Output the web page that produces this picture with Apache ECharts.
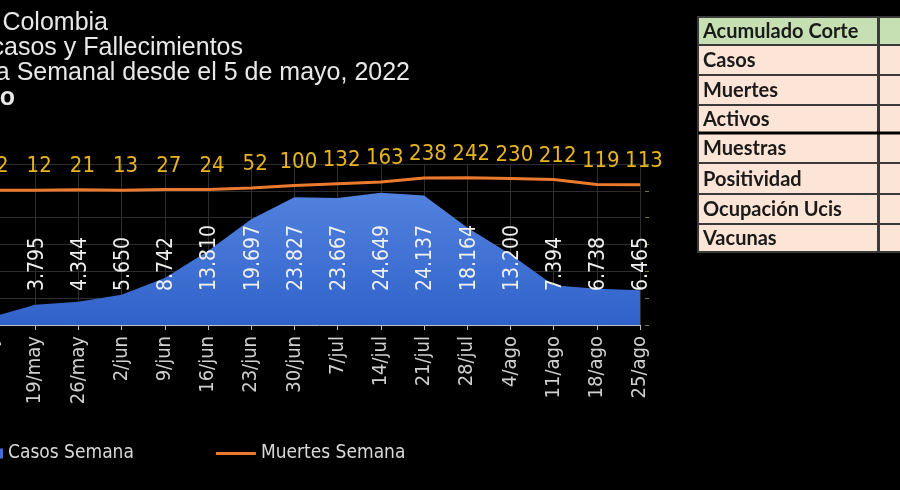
<!DOCTYPE html>
<html lang="es">
<head>
    <meta charset="UTF-8">
    <title>Colombia - Casos y Fallecimientos</title>
    <script src="https://cdn.jsdelivr.net/npm/echarts@6/dist/echarts.min.js"></script>
    <style>
        body {
            margin: 0;
            padding: 0;
            background: #000;
        }
        #chart {
            width: 900px;
            height: 490px;
        }
    </style>
</head>
<body>
    <div id="chart"></div>
    <script>
        // datos semanales
        const semanas = ['12/may', '19/may', '26/may', '2/jun', '9/jun', '16/jun', '23/jun', '30/jun',
            '7/jul', '14/jul', '21/jul', '28/jul', '4/ago', '11/ago', '18/ago', '25/ago'];
        const casosSemana = [1457, 3795, 4344, 5650, 8742, 13810, 19697, 23827,
            23667, 24649, 24137, 18164, 13200, 7394, 6738, 6465];
        const muertesSemana = [12, 12, 21, 13, 27, 24, 52, 100,
            132, 163, 238, 242, 230, 212, 119, 113];

        const titulos = ['Covid-19 Colombia', 'Nuevos casos y Fallecimientos',
            'Tendencia Semanal desde el 5 de mayo, 2022', 'Descenso'];
        const tablaFilas = ['Acumulado Corte', 'Casos', 'Muertes', 'Activos', 'Muestras',
            'Positividad', 'Ocupación Ucis', 'Vacunas'];

        const narrow = "'Liberation Sans Narrow', 'Arial Narrow', 'DejaVu Sans Condensed', sans-serif";
        const fmt = v => v.toLocaleString('de-DE');

        // titulo (cortado a la izquierda)
        const tituloEnds = [108, 243, 410, 15];
        const graphics = titulos.map((t, i) => ({
            type: 'text',
            x: tituloEnds[i],
            y: 23 + i * 25,
            style: {
                text: t,
                fill: '#e8e8e8',
                fontSize: 25,
                fontWeight: i === 3 ? 'bold' : 'normal',
                fontFamily: "'Liberation Sans', Arial, sans-serif",
                align: 'right',
                verticalAlign: 'middle'
            }
        }));

        // tabla acumulado
        const rowY = [17, 45, 75, 105, 133, 163, 194, 224, 252];
        tablaFilas.forEach((t, i) => {
            const fill = i === 0 ? '#c6e0b4' : '#fce4d6';
            graphics.push({
                type: 'rect',
                shape: { x: 698, y: rowY[i], width: 180, height: rowY[i + 1] - rowY[i] },
                style: { fill: fill, stroke: '#3a3a3a', lineWidth: 2 }
            });
            graphics.push({
                type: 'rect',
                shape: { x: 879, y: rowY[i], width: 40, height: rowY[i + 1] - rowY[i] },
                style: { fill: fill, stroke: '#3a3a3a', lineWidth: 2 }
            });
            graphics.push({
                type: 'text',
                x: 703,
                y: (rowY[i] + rowY[i + 1]) / 2 + 1,
                style: {
                    text: t,
                    fill: '#1a1a1a',
                    fontSize: 20,
                    fontWeight: 'bold',
                    fontFamily: "Lato, 'Liberation Sans', sans-serif",
                    verticalAlign: 'middle'
                }
            });
        });
        graphics.push({
            type: 'line',
            shape: { x1: 698, y1: 133, x2: 900, y2: 133 },
            style: { stroke: '#000', lineWidth: 3 }
        });

        const chart = echarts.init(document.getElementById('chart'));
        chart.setOption({
            backgroundColor: '#000',
            animation: false,
            grid: { left: -8, right: 260, top: 164, bottom: 165, outerBoundsMode: 'none' },
            legend: {
                left: -37,
                top: 444,
                padding: 0,
                itemWidth: 40,
                itemHeight: 10,
                itemGap: 82,
                textStyle: { color: '#d9d9d9', fontSize: 19, fontFamily: narrow },
                data: [
                    { name: 'Casos Semana', icon: 'rect' },
                    { name: 'Muertes Semana', icon: 'path://M0,0h0.1v0.1h-0.1z M0,3.5h40v3h-40z M0,9.9h0.1v0.1h-0.1z' }
                ]
            },
            xAxis: {
                type: 'category',
                data: semanas,
                boundaryGap: false,
                axisLine: { lineStyle: { color: '#bfbfbf' } },
                axisTick: { show: true, length: 5, lineStyle: { color: '#bfbfbf' } },
                axisLabel: {
                    rotate: 90,
                    margin: 11,
                    color: '#d0d0d0',
                    fontSize: 20,
                    fontFamily: narrow
                },
                splitLine: { show: true, lineStyle: { color: '#2e2e2e' } }
            },
            yAxis: [
                {
                    type: 'value',
                    min: 0,
                    max: 30000,
                    interval: 5000,
                    axisLabel: { show: false },
                    axisLine: { show: false },
                    splitLine: { lineStyle: { color: '#2e2e2e' } }
                },
                {
                    type: 'value',
                    min: -2500,
                    max: 500,
                    interval: 500,
                    position: 'right',
                    offset: 5,
                    axisLabel: { show: false },
                    axisLine: { show: false },
                    axisTick: { show: true, length: 4, lineStyle: { color: '#7a7a30' } },
                    splitLine: { show: false }
                }
            ],
            graphic: graphics,
            series: [
                {
                    name: 'Casos Semana',
                    type: 'line',
                    data: casosSemana,
                    symbol: 'none',
                    lineStyle: { width: 0 },
                    itemStyle: { color: '#3f6fd2' },
                    areaStyle: {
                        opacity: 1,
                        color: new echarts.graphic.LinearGradient(0, 0, 0, 1, [
                            { offset: 0, color: '#5282de' },
                            { offset: 1, color: '#3062ca' }
                        ])
                    },
                    z: 2
                },
                {
                    // soporte invisible para las etiquetas de casos
                    name: 'casosEtiquetas',
                    type: 'bar',
                    data: casosSemana,
                    barWidth: 1,
                    clip: false,
                    itemStyle: { color: 'rgba(0,0,0,0)' },
                    label: {
                        show: true,
                        position: 'insideBottom',
                        distance: 34,
                        rotate: 90,
                        align: 'left',
                        verticalAlign: 'middle',
                        offset: [0, 2],
                        color: '#f0f0f0',
                        fontSize: 21,
                        fontFamily: narrow,
                        formatter: p => fmt(p.value)
                    },
                    z: 3
                },
                {
                    name: 'Muertes Semana',
                    type: 'line',
                    yAxisIndex: 1,
                    data: muertesSemana,
                    symbol: 'circle',
                    symbolSize: 1,
                    showSymbol: true,
                    lineStyle: { color: '#ec7a2e', width: 3 },
                    itemStyle: { color: '#ec7a2e' },
                    label: {
                        show: true,
                        position: 'top',
                        distance: 12,
                        offset: [4, 0],
                        color: '#e8b520',
                        fontSize: 22,
                        fontFamily: narrow
                    },
                    z: 4
                }
            ]
        });
    </script>
</body>
</html>
